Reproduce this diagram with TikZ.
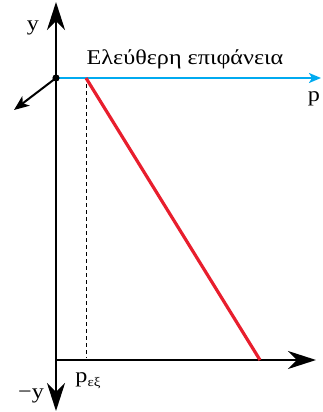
\documentclass[tikz,border=0pt]{standalone}
\usepackage{fontspec}
\setmainfont{Liberation Serif}[FakeStretch=1.15]
\usetikzlibrary{arrows.meta}
\begin{document}
\begin{tikzpicture}[x=1pt,y=-1pt,
  axis/.style={line width=2.4pt,-{Stealth[length=28pt,width=18pt,inset=9pt]}},
  lbl/.style={font=\fontsize{21}{23}\selectfont, inner sep=0pt}]
\useasboundingbox (0,0) rectangle (322,412);
\coordinate (O) at (56,78);
\coordinate (ytop) at (56,2);
\coordinate (ybot) at (56,411);
\coordinate (bl) at (56,360);
\coordinate (br) at (316,360);
\coordinate (pend) at (321,78);
\coordinate (diag) at (14,110);
\coordinate (rtop) at (86,78);
\coordinate (rbot) at (260,360);
\coordinate (dtop) at (86,84);
\coordinate (dbot) at (86,358);
\draw[axis] (bl) -- (ytop);
\draw[axis] (bl) -- (ybot);
\draw[axis] (bl) -- (br);
\draw[line width=2pt,-{Stealth[length=15pt,width=12pt,inset=4pt]}] (O) -- (diag);
\draw[dash pattern=on 4pt off 3pt,line width=1pt] (dtop) -- (dbot);
\draw[color={rgb,255:red,0;green,170;blue,240},line width=2pt,-{Stealth[length=12pt,width=10pt,inset=3pt]}] (O) -- (pend);
\draw[color={rgb,255:red,232;green,30;blue,45},line width=3.2pt] (rtop) -- (rbot);
\fill (O) circle (3.6pt);
\node[lbl] (ty) at (33,28) {y};
\node[lbl] (tmy) at (31,396) {−y};
\node[lbl] (tp) at (314,99) {p};
\node[lbl] (tt) at (185,59) {Ελεύθερη επιφάνεια};
\node[lbl] (tpe) at (88,381) {p\raisebox{-4pt}{\fontsize{13}{14}\selectfont εξ}};
\end{tikzpicture}
\end{document}
